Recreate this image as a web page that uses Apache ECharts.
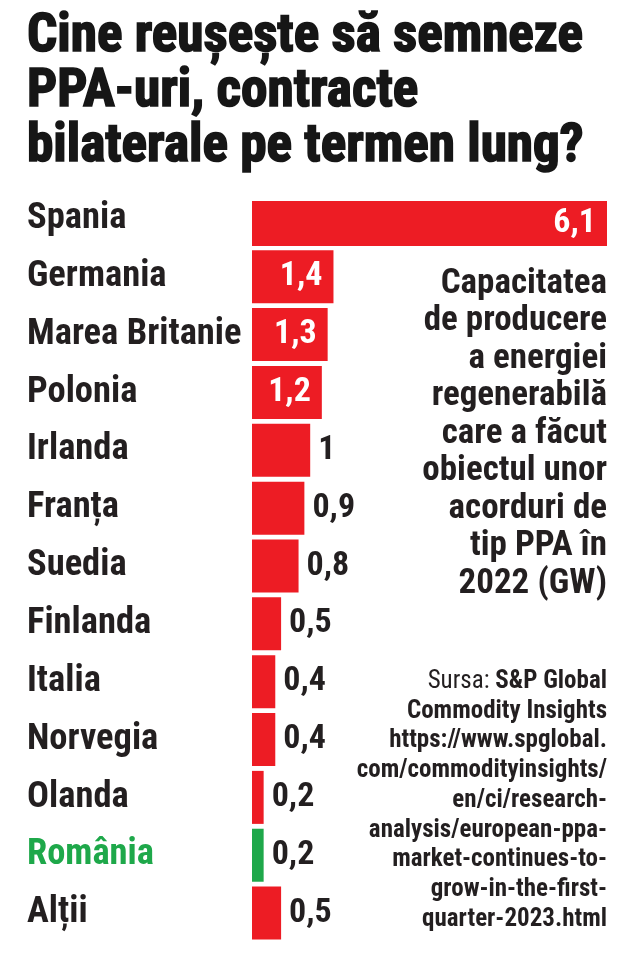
<!DOCTYPE html>
<html><head><meta charset="utf-8">
<script src="https://cdn.jsdelivr.net/npm/echarts@6/dist/echarts.min.js"></script>
<style>html,body{margin:0;padding:0;background:#fff}#c{width:640px;height:959px}</style>
</head><body><div id="c"></div>
<script>
const titleLines = ['Cine reușește să semneze', 'PPA-uri, contracte', 'bilaterale pe termen lung?'];
const categories = ['Spania', 'Germania', 'Marea Britanie', 'Polonia', 'Irlanda', 'Franța', 'Suedia', 'Finlanda', 'Italia', 'Norvegia', 'Olanda', 'România', 'Alții'];
const values = [6.1, 1.4, 1.3, 1.2, 1, 0.9, 0.8, 0.5, 0.4, 0.4, 0.2, 0.2, 0.5];
const highlight = 'România';
const noteLines = ['Capacitatea', 'de producere', 'a energiei', 'regenerabilă', 'care a făcut', 'obiectul unor', 'acorduri de', 'tip PPA în', '2022 (GW)'];
const sourceLabel = 'Sursa: ';
const sourceLines = ['S&P Global', 'Commodity Insights', 'https://www.spglobal.', 'com/commodityinsights/', 'en/ci/research-', 'analysis/european-ppa-', 'market-continues-to-', 'grow-in-the-first-', 'quarter-2023.html'];

const RED = '#ed1c24', GREEN = '#1ea84a', INK = '#231f20';
const FONT = '"Roboto Condensed", "Open Sans Condensed", sans-serif';
const fmt = v => String(v).replace('.', ',');

const chart = echarts.init(document.getElementById('c'), null, {renderer: 'canvas'});

const cv = document.createElement('canvas').getContext('2d');
const TITLE_SIZE = 53;
cv.font = 'bold ' + TITLE_SIZE + 'px ' + FONT;
const titleScale = 556 / cv.measureText(titleLines[0]).width;

function barItem(v, i) {
  const isHi = categories[i] === highlight;
  const inside = v >= 1.2;
  return {
    value: v,
    itemStyle: {color: isHi ? GREEN : RED},
    label: {
      show: true,
      position: inside ? 'insideRight' : 'right',
      distance: inside ? 11 : 8,
      color: inside ? '#fff' : INK,
      fontFamily: FONT, fontWeight: 'bold', fontSize: 34,
      formatter: p => fmt(p.value)
    }
  };
}

const mainData = values.map((v, i) => i === 0 ? '-' : barItem(v, i));
const firstData = [barItem(values[0], 0)];

const graphics = [];
titleLines.forEach((t, i) => {
  graphics.push({
    type: 'text', x: 27, y: 38 + i * 55, scaleX: titleScale,
    style: {text: t, font: 'bold ' + TITLE_SIZE + 'px ' + FONT, fill: '#161616',
      stroke: '#161616', lineWidth: 1.6, align: 'left', verticalAlign: 'middle'}
  });
});
noteLines.forEach((t, i) => {
  graphics.push({
    type: 'text', x: 607, y: 284 + i * 37.5,
    style: {text: t, font: 'bold 35px ' + FONT, fill: INK, align: 'right', verticalAlign: 'middle'}
  });
});
sourceLines.forEach((t, i) => {
  graphics.push({
    type: 'text', x: 607, y: 681.5 + i * 29.75,
    style: i === 0 ? {
      text: '{r|' + sourceLabel + '}{b|' + t + '}',
      rich: {
        r: {fontFamily: FONT, fontSize: 25, fontWeight: 'normal', fill: INK},
        b: {fontFamily: FONT, fontSize: 25, fontWeight: 'bold', fill: INK}
      },
      align: 'right', verticalAlign: 'middle'
    } : {text: t, font: 'bold 25px ' + FONT, fill: INK, align: 'right', verticalAlign: 'middle'}
  });
});

chart.setOption({
  backgroundColor: '#fff',
  animation: false,
  grid: [
    {left: 252, top: 190, width: 355, height: 752, containLabel: false},
    {left: 252, top: 201, width: 355, height: 45, containLabel: false}
  ],
  xAxis: [
    {gridIndex: 0, type: 'value', min: 0, max: 6.1, show: false},
    {gridIndex: 1, type: 'value', min: 0, max: 6.1, show: false}
  ],
  yAxis: [
    {gridIndex: 0, type: 'category', data: categories, inverse: true,
      axisLine: {show: false}, axisTick: {show: false}, splitLine: {show: false},
      axisLabel: {align: 'left', margin: 225, fontFamily: FONT, fontWeight: 'bold', fontSize: 36.5,
        color: (v) => v === highlight ? GREEN : INK}},
    {gridIndex: 1, type: 'category', data: categories.slice(0, 1), show: false}
  ],
  series: [
    {type: 'bar', xAxisIndex: 0, yAxisIndex: 0, barWidth: 53, data: mainData},
    {type: 'bar', xAxisIndex: 1, yAxisIndex: 1, barWidth: 45, data: firstData}
  ],
  graphic: graphics
});
</script></body></html>
